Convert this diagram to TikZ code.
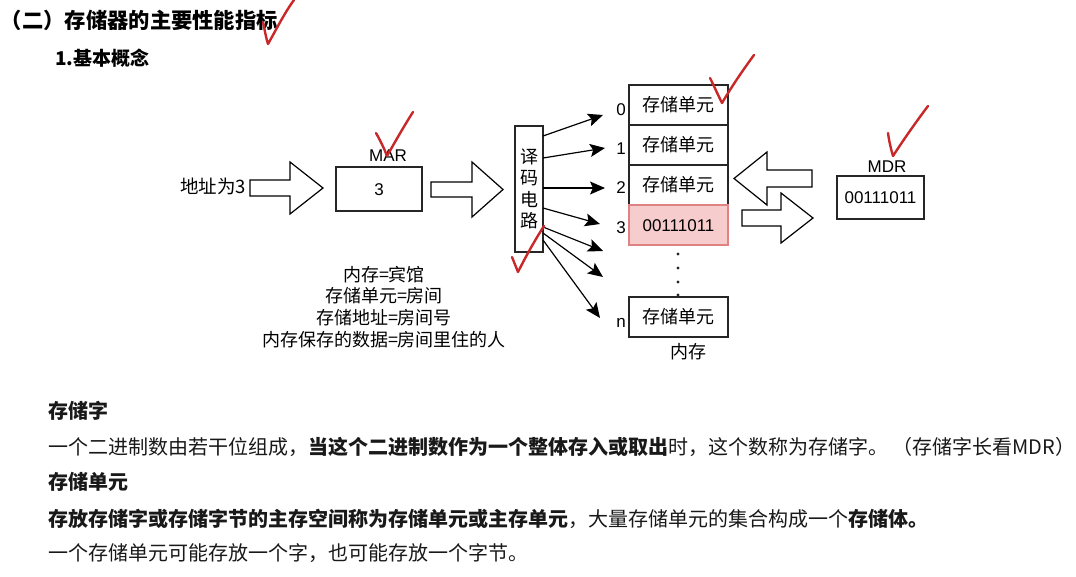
\documentclass[tikz,border=0pt]{standalone}
\usepackage{fontspec}
\setmainfont{Noto Sans CJK SC}
\newfontfamily\lat{Liberation Sans}
\usetikzlibrary{arrows.meta,calc}
\definecolor{chkred}{RGB}{200,40,40}
\definecolor{cellpink}{RGB}{246,204,204}
\definecolor{cellline}{RGB}{222,130,130}
\newcommand{\blkarr}[6]{\draw[blk] (#1,#4-#5) -- (#2,#4-#5) -- (#2,#4-#6) -- (#3,#4) -- (#2,#4+#6) -- (#2,#4+#5) -- (#1,#4+#5) -- cycle;}
\begin{document}
\begin{tikzpicture}[x=1pt,y=-1pt,
  every node/.style={inner sep=0pt,outer sep=0pt},
  ttl/.style={text height=18.7pt,text depth=2.6pt,font=\fontsize{21.3}{25}\selectfont\bfseries},
  sub/.style={text height=16.7pt,text depth=2.3pt,font=\fontsize{19}{23}\selectfont\bfseries},
  body/.style={text height=17.6pt,text depth=2.4pt,font=\fontsize{20}{24}\selectfont,text=black!90},
  bodyb/.style={body,font=\fontsize{20}{24}\selectfont\bfseries},
  dtxt/.style={text height=15.8pt,text depth=2.2pt,font=\fontsize{18}{21}\selectfont},
  ltxt/.style={text height=12.2pt,text depth=0pt,font=\fontsize{17}{20}\lat},
  box/.style={draw=black!85,line width=1.1pt},
  cell/.style={box,minimum width=99pt,minimum height=40pt,dtxt},
  blk/.style={draw=black,line width=1.2pt,fill=white,line join=miter},
  darr/.style={line width=1.2pt,-{Stealth[length=15pt,width=13pt,inset=3pt]}},
  chk/.style={draw=chkred,line width=2.4pt,line cap=round,line join=round}
]
\useasboundingbox (0,0) rectangle (1076,576);
\fill[white] (0,0) rectangle (1076,576);

% headings
\node[ttl,anchor=west] (title) at (1,20) {（二）存储器的主要性能指标};
\node[sub,anchor=west] (subt) at (55,58) {1.基本概念};

% address input
\node[dtxt,anchor=east,font=\fontsize{18.5}{21}\selectfont] (addr) at (246,187) {地址为3};
\blkarr{250}{290}{323}{188}{8}{26}

% MAR
\node[box,minimum width=86pt,minimum height=44pt,ltxt] (mar) at (379,189) {3};
\node[ltxt] (marl) at (388,155) {MAR};
\blkarr{431}{472}{503}{189.5}{7.5}{27.5}

% decoder
\node[box,minimum width=28pt,minimum height=126pt,align=center,font=\fontsize{18}{21.5}\selectfont] (dec) at (529,189) {译\\码\\电\\路};

% memory cells
\node[cell] (m0) at (678.5,105) {存储单元};
\node[cell] (m1) at (678.5,145) {存储单元};
\node[cell] (m2) at (678.5,185) {存储单元};
\node[cell,draw=cellline,fill=cellpink,font=\fontsize{17}{20}\lat,text height=12.2pt,text depth=0pt] (m3) at (678.5,225) {00111011};
\node[cell] (mn) at (678.5,317) {存储单元};
\node[dtxt] (memlbl) at (688,352) {内存};

% index labels
\node[ltxt] (i0) at (621,109) {0};
\node[ltxt] (i1) at (621,148) {1};
\node[ltxt] (i2) at (621,187) {2};
\node[ltxt] (i3) at (621,227) {3};
\node[ltxt] (in) at (621,321) {n};

% dots
\foreach \yy in {254,268,282,295} \fill[black!85] (678,\yy) circle (1.6);

% decoder outputs
\coordinate (t0) at (603,115);
\coordinate (t1) at (605,148);
\coordinate (t2) at (605,188);
\coordinate (t3) at (600,224);
\coordinate (t4) at (603,251);
\coordinate (t5) at (603,277);
\coordinate (t6) at (600,318);
\draw[darr] ([yshift=53pt]dec.east) -- (t0);
\draw[darr] ([yshift=31pt]dec.east) -- (t1);
\draw[darr] ([yshift=1pt]dec.east) -- (t2);
\draw[darr] ([yshift=-19pt]dec.east) -- (t3);
\draw[darr] ([yshift=-38pt]dec.east) -- (t4);
\draw[darr] ([yshift=-44pt]dec.east) -- (t5);
\draw[darr] ([yshift=-51pt]dec.east) -- (t6);

% MDR
\blkarr{812}{767}{734}{178.5}{8.5}{26.5}
\blkarr{742}{781}{813}{218}{8}{25}
\node[box,minimum width=87pt,minimum height=43pt,ltxt] (mdr) at (880.5,197.5) {00111011};
\node[ltxt] (mdrl) at (887,166) {MDR};

% analogy
\node[dtxt] (a1) at (384,275) {内存=宾馆};
\node[dtxt] (a2) at (384,296) {存储单元=房间};
\node[dtxt] (a3) at (384,318) {存储地址=房间号};
\node[dtxt] (a4) at (384,340) {内存保存的数据=房间里住的人};

% body text
\node[bodyb,anchor=west] (h1) at (48,411) {存储字};
\node[body,anchor=west] (l1) at (48,447) {一个二进制数由若干位组成，\textbf{当这个二进制数作为一个整体存入或取出}时，这个数称为存储字。 （存储字长看MDR）};
\node[bodyb,anchor=west] (h2) at (48,482) {存储单元};
\node[body,anchor=west] (l2) at (48,519) {\textbf{存放存储字或存储字节的主存空间称为存储单元或主存单元}，大量存储单元的集合构成一个\textbf{存储体。}};
\node[body,anchor=west] (l3) at (48,553) {一个存储单元可能存放一个字，也可能存放一个字节。};

% check marks
\draw[chk] (263,22) .. controls (265,31) and (266,38) .. (268,44) .. controls (276,30) and (285,12) .. (294,0);
\draw[chk] (376,133) .. controls (380,140) and (384,148) .. (387,156) .. controls (395,142) and (404,126) .. (413,112);
\draw[chk] (710,78) .. controls (714,86) and (718,95) .. (722,103) .. controls (732,86) and (743,70) .. (754,55);
\draw[chk] (888,133) .. controls (889,141) and (891,149) .. (893,156) .. controls (904,139) and (916,122) .. (928,106);
\draw[chk] (512,257) .. controls (514,262) and (516,267) .. (518,272) .. controls (526,256) and (535,240) .. (544,226);
\end{tikzpicture}
\end{document}
